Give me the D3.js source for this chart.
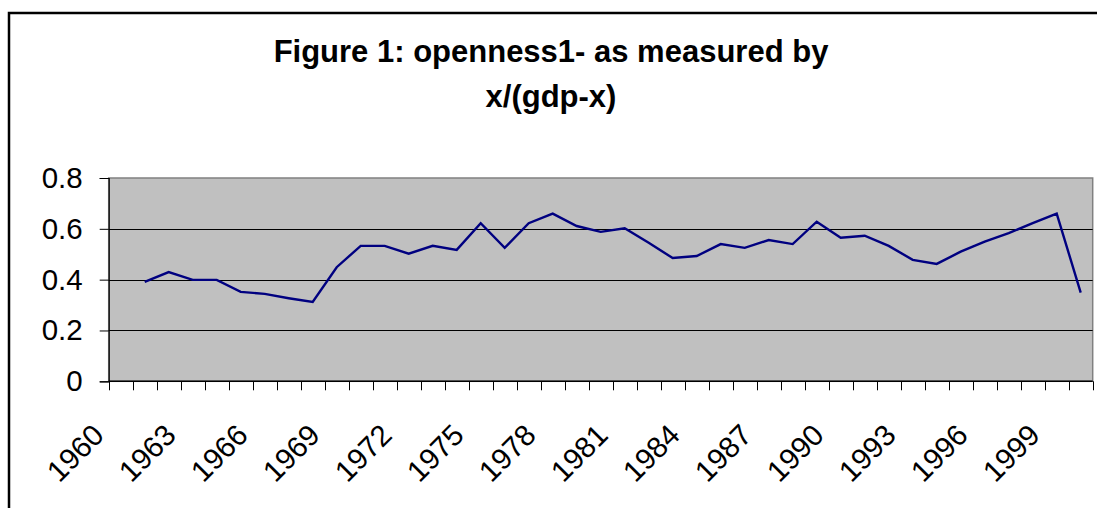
<!DOCTYPE html>
<html><head><meta charset="utf-8">
<script src="https://cdn.jsdelivr.net/npm/d3@7/dist/d3.min.js"></script>
<style>body{margin:0;background:#fff;overflow:hidden}svg{display:block}</style>
</head><body>
<svg id="chart" width="1097" height="508"></svg>
<script>
const titleLines = ["Figure 1: openness1- as measured by", "x/(gdp-x)"];
const years = ["1960","1961","1962","1963","1964","1965","1966","1967","1968","1969",
  "1970","1971","1972","1973","1974","1975","1976","1977","1978","1979",
  "1980","1981","1982","1983","1984","1985","1986","1987","1988","1989",
  "1990","1991","1992","1993","1994","1995","1996","1997","1998","1999","2000"];
const openness = [null,0.391,0.430,0.399,0.399,0.352,0.344,0.327,0.312,0.449,
  0.533,0.533,0.502,0.533,0.517,0.622,0.525,0.622,0.660,0.611,
  0.588,0.602,0.545,0.485,0.493,0.540,0.525,0.556,0.540,0.628,
  0.565,0.573,0.533,0.478,0.462,0.510,0.550,0.583,0.622,0.660,0.349];
const xTickLabels = ["1960","1963","1966","1969","1972","1975","1978","1981","1984","1987","1990","1993","1996","1999"];
const yTicks = [0, 0.2, 0.4, 0.6, 0.8];

const svg = d3.select("#chart");
const font = "'Liberation Sans', Arial, sans-serif";
const plot = {left: 108.7, right: 1092.7, top: 178, bottom: 381.3};

// chart area border (left & top visible)
svg.append("path").attr("d", "M9,520 V13 H1110").attr("fill", "none")
  .attr("stroke", "#000").attr("stroke-width", 2.5);

// title
svg.append("text").attr("x", 551).attr("y", 62).attr("text-anchor", "middle")
  .attr("font-family", font).attr("font-weight", "bold").attr("font-size", 31)
  .text(titleLines[0]);
svg.append("text").attr("x", 551).attr("y", 107).attr("text-anchor", "middle")
  .attr("font-family", font).attr("font-weight", "bold").attr("font-size", 31)
  .text(titleLines[1]);

const x = d3.scaleBand().domain(years).range([plot.left, plot.right]).padding(0);
const y = d3.scaleLinear().domain([0, 0.8]).range([plot.bottom, plot.top]);

// plot area
svg.append("rect").attr("x", plot.left).attr("y", plot.top)
  .attr("width", plot.right - plot.left).attr("height", plot.bottom - plot.top)
  .attr("fill", "#C0C0C0").attr("stroke", "#808080").attr("stroke-width", 1.5);

// gridlines
svg.append("g").selectAll("line").data(yTicks.filter(d => d > 0 && d < 0.8)).join("line")
  .attr("x1", plot.left).attr("x2", plot.right)
  .attr("y1", d => Math.round(y(d)) + 0.5).attr("y2", d => Math.round(y(d)) + 0.5)
  .attr("stroke", "#000").attr("stroke-width", 1);

// y axis
const yAxis = d3.axisLeft(y).tickValues(yTicks).tickSize(9).tickPadding(17)
  .tickFormat(d => d === 0 ? "0" : d3.format(".1f")(d));
const gy = svg.append("g").attr("transform", `translate(${plot.left},0)`).call(yAxis);
gy.select(".domain").attr("stroke", "#000").attr("stroke-width", 1.2);
gy.selectAll(".tick line").attr("stroke", "#000");
gy.selectAll(".tick text").attr("font-family", font).attr("font-size", 29.5).attr("fill", "#000");

// x axis baseline and ticks at category boundaries
svg.append("line").attr("x1", plot.left).attr("x2", plot.right)
  .attr("y1", plot.bottom).attr("y2", plot.bottom).attr("stroke", "#000").attr("stroke-width", 1.5);
const boundaries = years.map(d => x(d)).concat([x(years[years.length - 1]) + x.bandwidth()]);
svg.append("g").selectAll("line").data(boundaries).join("line")
  .attr("x1", d => Math.round(d) + 0.5).attr("x2", d => Math.round(d) + 0.5)
  .attr("y1", plot.bottom).attr("y2", plot.bottom + 9)
  .attr("stroke", "#000").attr("stroke-width", 1);

// x labels
svg.append("g").selectAll("text").data(xTickLabels).join("text")
  .attr("transform", d => `translate(${x(d) + x.bandwidth() / 2 - 15},437) rotate(-45)`)
  .attr("text-anchor", "end")
  .attr("font-family", font).attr("font-size", 29.5).attr("fill", "#000")
  .text(d => d);

// line
const line = d3.line()
  .defined(d => d.v !== null)
  .x(d => x(d.year) + x.bandwidth() / 2)
  .y(d => y(d.v));
svg.append("path").datum(years.map((yr, i) => ({year: yr, v: openness[i]})))
  .attr("d", line).attr("fill", "none").attr("stroke", "#000080")
  .attr("stroke-width", 2.4).attr("stroke-linejoin", "miter");
</script>
</body></html>
